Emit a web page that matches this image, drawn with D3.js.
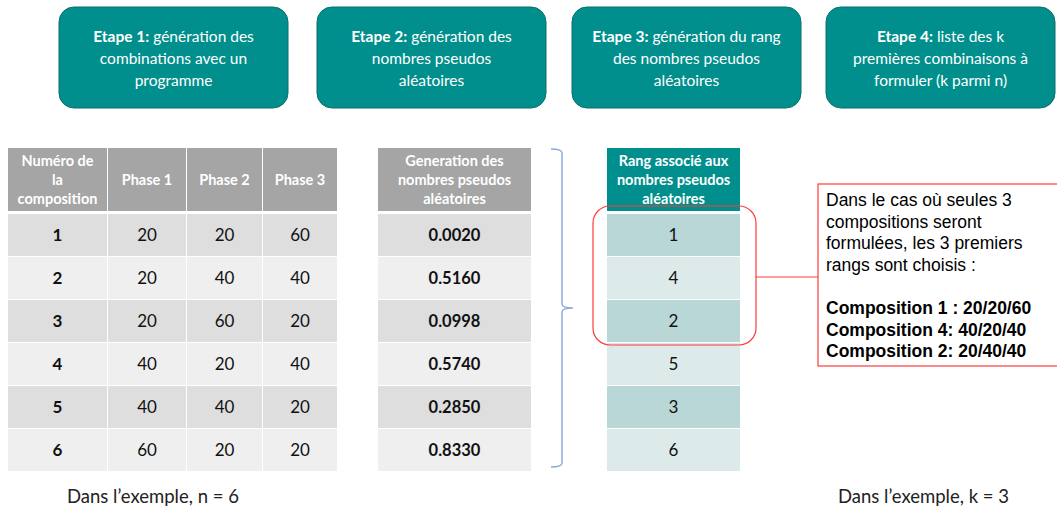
<!DOCTYPE html>
<html>
<head>
<meta charset="utf-8">
<script src="https://cdn.jsdelivr.net/npm/d3@7"></script>
<style>
  body { margin: 0; background: #fff; }
  svg text { font-family: Lato, "Open Sans", sans-serif; }
</style>
</head>
<body>
<div id="vis"></div>
<script>
// steps at the top
var steps = [
    ['Etape 1:', ' génération des', 'combinations avec un', 'programme'],
    ['Etape 2:', ' génération des', 'nombres pseudos', 'aléatoires'],
    ['Etape 3:', ' génération du rang', 'des nombres pseudos', 'aléatoires'],
    ['Etape 4:', ' liste des k', 'premières combinaisons à', 'formuler (k parmi n)']
];

// table data
var compositions = [1, 2, 3, 4, 5, 6];
var phase1 = [20, 20, 20, 40, 40, 60];
var phase2 = [20, 40, 60, 20, 40, 20];
var phase3 = [60, 40, 20, 40, 20, 20];
var randoms = ['0.0020', '0.5160', '0.0998', '0.5740', '0.2850', '0.8330'];
var ranks = [1, 4, 2, 5, 3, 6];

var leftHeaders = [['Numéro de', 'la', 'composition'], ['Phase 1'], ['Phase 2'], ['Phase 3']];
var midHeader = ['Generation des', 'nombres pseudos', 'aléatoires'];
var rightHeader = ['Rang associé aux', 'nombres pseudos', 'aléatoires'];

var noteLines = ['Dans le cas où seules 3', 'compositions seront', 'formulées, les 3 premiers', 'rangs sont choisis :', ''];
var noteBold = ['Composition 1 : 20/20/60', 'Composition 4: 40/20/40', 'Composition 2: 20/40/40'];

var width = 1057, height = 511;
var teal = '#008f8c';

var svg = d3.select('#vis').append('svg')
    .attr('width', width)
    .attr('height', height);

// step boxes
var stepLeft = [59, 317, 572, 826];
var step = svg.selectAll('.step')
    .data(steps)
    .enter().append('g')
    .attr('class', 'step')
    .attr('transform', function(d, i) { return 'translate(' + stepLeft[i] + ',7)'; });

step.append('rect')
    .attr('width', 229)
    .attr('height', 101)
    .attr('rx', 15)
    .attr('fill', teal)
    .attr('stroke', '#0a6f6d')
    .attr('stroke-width', 1);

step.each(function(d) {
    var t = d3.select(this).append('text')
        .attr('x', 114.5)
        .attr('text-anchor', 'middle')
        .attr('fill', '#fff')
        .style('font-size', '15.5px');
    var l1 = t.append('tspan').attr('x', 114.5).attr('y', 35);
    l1.append('tspan').attr('font-weight', 'bold').text(d[0]);
    l1.append('tspan').text(d[1]);
    t.append('tspan').attr('x', 114.5).attr('y', 57).text(d[2]);
    t.append('tspan').attr('x', 114.5).attr('y', 79).text(d[3]);
});

// row scale shared by the three tables
var y = d3.scaleBand().domain(d3.range(6)).range([213, 471]);
var headTop = 148, headH = 63;

function header(x0, w, lines, fill) {
    svg.append('rect')
        .attr('x', x0).attr('y', headTop)
        .attr('width', w).attr('height', headH)
        .attr('fill', fill);
    var n = lines.length;
    var t = svg.append('text')
        .attr('text-anchor', 'middle')
        .attr('fill', '#fff')
        .attr('font-weight', 'bold')
        .style('font-size', '14.5px');
    lines.forEach(function(s, i) {
        t.append('tspan')
            .attr('x', x0 + w / 2)
            .attr('y', headTop + headH / 2 + (i - (n - 1) / 2) * 19 + 5)
            .text(s);
    });
}

// left table
var colX = [8, 108, 187, 263, 337];
var gray = '#a5a5a5';
leftHeaders.forEach(function(h, i) {
    header(colX[i], colX[i + 1] - colX[i] - (i < 3 ? 1 : 0), h, gray);
});

var cols = [compositions, phase1, phase2, phase3];
cols.forEach(function(col, c) {
    var x0 = colX[c], w = colX[c + 1] - colX[c] - (c < 3 ? 1 : 0);
    svg.selectAll('.cell' + c)
        .data(col)
        .enter().append('rect')
        .attr('x', x0)
        .attr('y', function(d, i) { return y(i) + 1; })
        .attr('width', w)
        .attr('height', y.bandwidth() - 1)
        .attr('fill', function(d, i) { return i % 2 == 0 ? '#dedede' : '#efefef'; });
    svg.selectAll('.txt' + c)
        .data(col)
        .enter().append('text')
        .attr('x', x0 + w / 2)
        .attr('y', function(d, i) { return y(i) + y.bandwidth() / 2 + 6; })
        .attr('text-anchor', 'middle')
        .attr('fill', '#111')
        .attr('font-weight', c == 0 ? 'bold' : 'normal')
        .style('font-size', '17px')
        .text(function(d) { return d; });
});

// middle table
header(378, 153, midHeader, gray);
svg.selectAll('.rnd')
    .data(randoms)
    .enter().append('rect')
    .attr('x', 378)
    .attr('y', function(d, i) { return y(i) + 1; })
    .attr('width', 153)
    .attr('height', y.bandwidth() - 1)
    .attr('fill', function(d, i) { return i % 2 == 0 ? '#dedede' : '#efefef'; });
svg.selectAll('.rndt')
    .data(randoms)
    .enter().append('text')
    .attr('x', 378 + 76.5)
    .attr('y', function(d, i) { return y(i) + y.bandwidth() / 2 + 6; })
    .attr('text-anchor', 'middle')
    .attr('fill', '#111')
    .attr('font-weight', 'bold')
    .style('font-size', '16.5px')
    .text(function(d) { return d; });

// brace
svg.append('path')
    .attr('d', 'M551,149 Q562,149 562,153 L562,304 Q562,308 573,308 Q562,308 562,312 L562,463 Q562,467 551,467')
    .attr('fill', 'none')
    .attr('stroke', '#8eaadb')
    .attr('stroke-width', 1.5);

// right table
header(607, 133, rightHeader, teal);
svg.selectAll('.rk')
    .data(ranks)
    .enter().append('rect')
    .attr('x', 607)
    .attr('y', function(d, i) { return y(i) + 1; })
    .attr('width', 133)
    .attr('height', y.bandwidth() - 1)
    .attr('fill', function(d, i) { return i % 2 == 0 ? '#b9d7d6' : '#dcebea'; });
svg.selectAll('.rkt')
    .data(ranks)
    .enter().append('text')
    .attr('x', 607 + 66.5)
    .attr('y', function(d, i) { return y(i) + y.bandwidth() / 2 + 6; })
    .attr('text-anchor', 'middle')
    .attr('fill', '#111')
    .style('font-size', '17px')
    .text(function(d) { return d; });

// red highlight around first 3 ranks
var red = '#ff3b3b';
svg.append('rect')
    .attr('x', 593)
    .attr('y', y(0) - 7)
    .attr('width', 163)
    .attr('height', y(3) - y(0) + 10)
    .attr('rx', 17)
    .attr('fill', 'none')
    .attr('stroke', red)
    .attr('stroke-width', 1.2);

svg.append('line')
    .attr('x1', 756).attr('x2', 818)
    .attr('y1', 277).attr('y2', 277)
    .attr('stroke', red)
    .attr('stroke-width', 1.2);

svg.append('rect')
    .attr('x', 818).attr('y', 184)
    .attr('width', 245).attr('height', 182)
    .attr('fill', '#fff')
    .attr('stroke', red)
    .attr('stroke-width', 1.2);

var note = svg.append('text')
    .style('font-family', '"Liberation Sans", Arial, sans-serif')
    .style('font-size', '17.5px')
    .attr('fill', '#000');
noteLines.concat(noteBold).forEach(function(s, i) {
    note.append('tspan')
        .attr('x', 826)
        .attr('y', 206 + i * 21.6)
        .attr('font-weight', i >= noteLines.length ? 'bold' : 'normal')
        .text(s);
});

// footnotes
svg.append('text')
    .attr('x', 67).attr('y', 503)
    .style('font-size', '18.5px')
    .attr('fill', '#222')
    .text('Dans l’exemple, n = 6');
svg.append('text')
    .attr('x', 838).attr('y', 503)
    .style('font-size', '18.5px')
    .attr('fill', '#222')
    .text('Dans l’exemple, k = 3');
</script>
</body>
</html>
